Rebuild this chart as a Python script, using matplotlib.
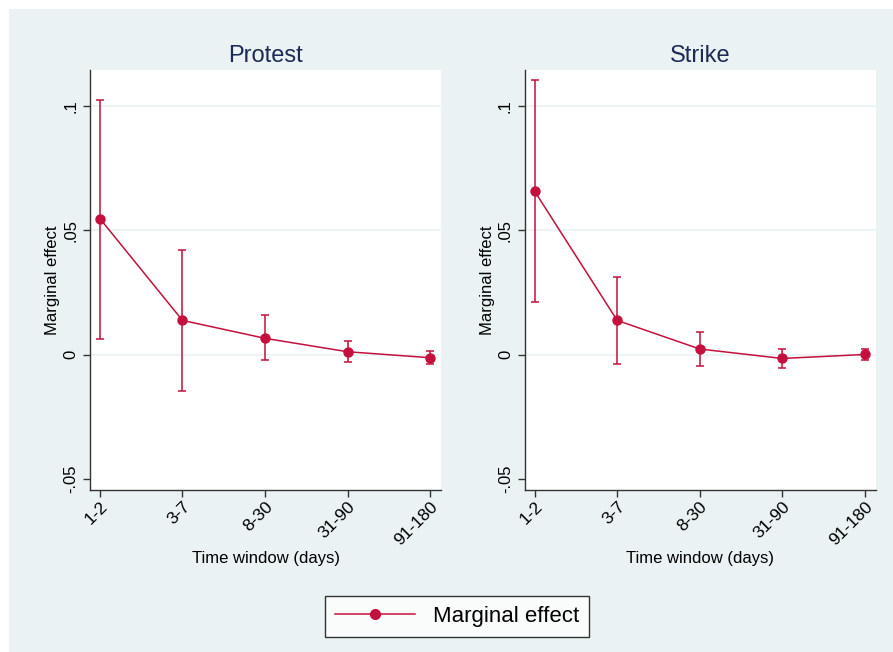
import numpy as np
import matplotlib
matplotlib.use("Agg")
import matplotlib.pyplot as plt
from matplotlib.patches import Rectangle
from matplotlib.lines import Line2D

plt.rcParams['font.family'] = ['Liberation Sans', 'DejaVu Sans']

windows = ["1-2", "3-7", "8-30", "31-90", "91-180"]

protest_est = [0.0547, 0.0138, 0.0066, 0.0012, -0.0012]
protest_lo = [0.0063, -0.0145, -0.0023, -0.0029, -0.0036]
protest_hi = [0.1026, 0.0422, 0.0158, 0.0054, 0.0013]

strike_est = [0.0657, 0.0138, 0.0023, -0.0015, 0.0001]
strike_lo = [0.0214, -0.0036, -0.0044, -0.0054, -0.0023]
strike_hi = [0.1103, 0.0314, 0.0090, 0.0025, 0.0025]

yticks = [-0.05, 0, 0.05, 0.1]
ytick_labels = ["-.05", "0", ".05", ".1"]
gridlines = [0, 0.05, 0.1]

red = "#C4103C"
bg = "#EAF2F3"
navy = "#1C2A55"

W, H = 893, 652
fig = plt.figure(figsize=(W / 100, H / 100), dpi=100)
fig.patches.append(Rectangle((9 / W, 0), 1 - 9 / W, 1 - 9 / H, transform=fig.transFigure,
                             facecolor=bg, edgecolor="none", zorder=-10))

x = np.arange(len(windows))
panels = [("Protest", protest_est, protest_lo, protest_hi, 90),
          ("Strike", strike_est, strike_lo, strike_hi, 524.7)]

for title, est, lo, hi, left_px in panels:
    ax = fig.add_axes([left_px / W, 1 - 490 / H, 351 / W, 420 / H])
    ax.set_facecolor("white")
    est = np.array(est)
    yerr = [est - np.array(lo), np.array(hi) - est]
    for g in gridlines:
        ax.axhline(g, color=bg, lw=1.2, zorder=1)
    ax.errorbar(x, est, yerr=yerr, color=red, lw=1.1, elinewidth=1.1,
                capsize=3, capthick=1.1, marker="o", markersize=6.5, zorder=3)
    ax.set_xlim(-0.121, 4.133)
    ax.set_ylim(-0.0544, 0.1145)
    ax.set_yticks(yticks)
    ax.set_yticklabels(ytick_labels, rotation=90, va="center", fontsize=12)
    ax.set_xticks(x)
    ax.set_xticklabels(windows, rotation=45, ha="right", rotation_mode="anchor", fontsize=12.5)
    for s in ["top", "right"]:
        ax.spines[s].set_visible(False)
    for s in ["left", "bottom"]:
        ax.spines[s].set_color("#333333")
        ax.spines[s].set_linewidth(1)
    ax.tick_params(length=5, width=1, color="#333333")
    ax.tick_params(axis="x", pad=1.5)
    ax.set_title(title, fontsize=17, color=navy, pad=6)
    ax.set_xlabel("Time window (days)", fontsize=12, labelpad=2)
    ax.set_ylabel("Marginal effect", fontsize=12, labelpad=2)

handle = Line2D([], [], color=red, lw=1.1, marker="o", markersize=7)
leg = fig.legend([handle], ["Marginal effect"], loc="center",
                 bbox_to_anchor=(457 / W, 1 - 616.5 / H), fontsize=16,
                 frameon=True, fancybox=False, edgecolor="black",
                 handlelength=3.6, borderpad=0.45, handletextpad=0.8)
leg.get_frame().set_linewidth(1)

fig.savefig("out.png", dpi=100)
